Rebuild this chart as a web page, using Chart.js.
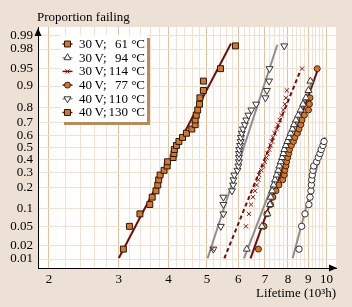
<!DOCTYPE html>
<html>
<head>
<meta charset="utf-8">
<script src="https://cdn.jsdelivr.net/npm/chart.js@4.4.1/dist/chart.umd.min.js"></script>
<style>
  html, body { margin: 0; padding: 0; background: #ede1d5; }
  #wrap { width: 352px; height: 307px; }
</style>
</head>
<body>
<div id="wrap"><canvas id="lifeChart" width="352" height="307"></canvas></div>
<script>
// Lifetime data (10^3 h) and proportion failing, one pair of arrays per test condition
const seriesNames = ['30 V;  61 °C', '30 V;  94 °C', '30 V; 114 °C', '40 V;  77 °C', '40 V; 110 °C', '40 V; 130 °C'];

const life30v61 = [3.08, 3.19, 3.39, 3.59, 3.64, 3.72, 3.76, 3.78, 3.81, 3.90, 3.97, 3.98, 4.11, 4.13, 4.14,
                   4.19, 4.25, 4.34, 4.44, 4.58, 4.67, 4.67, 4.70, 4.74, 4.79, 4.80, 4.90, 4.90, 5.41, 5.90];
const prop30v61 = [0.017, 0.05, 0.083, 0.117, 0.15, 0.183, 0.217, 0.25, 0.283, 0.317, 0.35, 0.383, 0.417, 0.45, 0.483,
                   0.517, 0.55, 0.583, 0.617, 0.65, 0.683, 0.717, 0.75, 0.783, 0.817, 0.85, 0.883, 0.917, 0.95, 0.983];

const life30v94 = [6.30, 6.88, 7.10, 7.21, 7.24, 7.30, 7.36, 7.42, 7.49, 7.56, 7.61, 7.67, 7.73, 7.79,
                   7.83, 7.90, 7.97, 8.05, 8.12, 8.21, 8.28, 8.38, 8.49, 8.61, 8.73, 8.88, 9.01, 9.11];
const prop30v94 = [0.017, 0.05, 0.083, 0.117, 0.15, 0.183, 0.217, 0.25, 0.283, 0.317, 0.35, 0.383, 0.417, 0.45,
                   0.483, 0.517, 0.55, 0.583, 0.617, 0.65, 0.683, 0.717, 0.75, 0.783, 0.817, 0.85, 0.883, 0.917];

const life30v114 = [5.16, 6.27, 6.38, 6.46, 6.53, 6.61, 6.67, 6.74, 6.77, 6.86, 6.94, 7.00, 7.06, 7.10,
                    7.18, 7.24, 7.29, 7.33, 7.40, 7.49, 7.55, 7.63, 7.71, 7.79, 7.86, 7.91, 7.95, 8.68];
const prop30v114 = [0.017, 0.05, 0.083, 0.117, 0.15, 0.183, 0.217, 0.25, 0.283, 0.317, 0.35, 0.383, 0.417, 0.45,
                    0.483, 0.517, 0.55, 0.583, 0.617, 0.65, 0.683, 0.717, 0.75, 0.783, 0.817, 0.85, 0.883, 0.95];

const life40v77 = [6.74, 6.96, 7.08, 7.23, 7.33, 7.46, 7.59, 7.76, 7.83, 7.86, 7.91, 7.94, 7.99, 8.03,
                   8.07, 8.16, 8.26, 8.33, 8.45, 8.53, 8.62, 8.68, 8.80, 9.01, 9.06, 9.09, 9.48];
const prop40v77 = [0.017, 0.05, 0.083, 0.117, 0.15, 0.183, 0.217, 0.25, 0.283, 0.317, 0.35, 0.383, 0.417, 0.45,
                   0.483, 0.517, 0.55, 0.583, 0.617, 0.65, 0.683, 0.717, 0.75, 0.783, 0.817, 0.85, 0.95];

const life40v110 = [5.19, 5.42, 5.50, 5.50, 5.50, 5.78, 5.82, 5.83, 5.86, 5.97, 6.00, 6.02, 6.02, 6.02, 6.03,
                    6.06, 6.08, 6.09, 6.12, 6.16, 6.23, 6.28, 6.36, 6.47, 6.65, 7.02, 7.08, 7.17, 7.19, 7.83];
const prop40v110 = [0.017, 0.05, 0.083, 0.117, 0.15, 0.183, 0.217, 0.25, 0.283, 0.317, 0.35, 0.383, 0.417, 0.45, 0.483,
                    0.517, 0.55, 0.583, 0.617, 0.65, 0.683, 0.717, 0.75, 0.783, 0.817, 0.85, 0.883, 0.917, 0.95, 0.983];

const life40v130 = [8.53, 8.66, 8.83, 9.03, 9.09, 9.14, 9.16, 9.18, 9.21, 9.25, 9.29, 9.45, 9.54, 9.63, 9.70, 9.80, 9.86];
const prop40v130 = [0.017, 0.05, 0.083, 0.117, 0.15, 0.183, 0.217, 0.25, 0.283, 0.317, 0.35, 0.383, 0.417, 0.45, 0.483, 0.517, 0.55];

// Fitted lognormal lines, start and end points
const fitLife = [[3.00, 5.75], [6.20, 9.25], [5.53, 8.57], [6.44, 9.54], [5.02, 7.52], [8.22, 9.91]];
const fitProp = [[0.0106, 0.985], [0.0104, 0.924], [0.0104, 0.942], [0.0104, 0.951], [0.0104, 0.984], [0.0104, 0.587]];

// Axis ticks
const probTicks = [0.01, 0.02, 0.05, 0.1, 0.2, 0.3, 0.4, 0.5, 0.6, 0.7, 0.8, 0.9, 0.95, 0.98, 0.99];
const lifeTicks = [2, 3, 4, 5, 6, 7, 8, 9, 10];

const DARK_RED = '#6b0f0f';
const GRAY = '#8e8e8e';
const BROWN = '#cd7934';
const font = { family: '"Liberation Serif", "Times New Roman", serif', size: 13 };

// Inverse normal CDF (Acklam) for the probability axis
function probit(p) {
    const a = [-3.969683028665376e+01, 2.209460984245205e+02, -2.759285104469687e+02, 1.383577518672690e+02, -3.066479806614716e+01, 2.506628277459239e+00];
    const b = [-5.447609879822406e+01, 1.615858368580409e+02, -1.556989798598866e+02, 6.680131188771972e+01, -1.328068155288572e+01];
    const c = [-7.784894002430293e-03, -3.223964580411365e-01, -2.400758277161838e+00, -2.549732539343734e+00, 4.374664141464968e+00, 2.938163982698783e+00];
    const d = [7.784695709041462e-03, 3.224671290700398e-01, 2.445134137142996e+00, 3.754408661907416e+00];
    const pl = 0.02425;
    if (p < pl) {
        const q = Math.sqrt(-2 * Math.log(p));
        return (((((c[0] * q + c[1]) * q + c[2]) * q + c[3]) * q + c[4]) * q + c[5]) / ((((d[0] * q + d[1]) * q + d[2]) * q + d[3]) * q + 1);
    }
    if (p > 1 - pl) {
        const q = Math.sqrt(-2 * Math.log(1 - p));
        return -(((((c[0] * q + c[1]) * q + c[2]) * q + c[3]) * q + c[4]) * q + c[5]) / ((((d[0] * q + d[1]) * q + d[2]) * q + d[3]) * q + 1);
    }
    const q = p - 0.5, r = q * q;
    return (((((a[0] * r + a[1]) * r + a[2]) * r + a[3]) * r + a[4]) * r + a[5]) * q / (((((b[0] * r + b[1]) * r + b[2]) * r + b[3]) * r + b[4]) * r + 1);
}

const toPoints = (life, prop) => life.map((t, i) => ({ x: t, y: probit(prop[i]) }));

// Marker styles per series (plot) and the styles the legend shows
const markerStyles = [
    { pointStyle: 'rect', radius: 4.2, rotation: 0, bg: BROWN, border: '#2e1508', line: DARK_RED, dash: [] },
    { pointStyle: 'triangle', radius: 4, rotation: 0, bg: '#ffffff', border: '#333333', line: GRAY, dash: [] },
    { pointStyle: 'crossRot', radius: 3, rotation: 0, bg: DARK_RED, border: '#8a1414', line: DARK_RED, dash: [4, 3] },
    { pointStyle: 'circle', radius: 3, rotation: 0, bg: BROWN, border: '#4a2008', line: DARK_RED, dash: [] },
    { pointStyle: 'triangle', radius: 4, rotation: 180, bg: '#ffffff', border: '#333333', line: GRAY, dash: [] },
    { pointStyle: 'circle', radius: 3.2, rotation: 0, bg: '#ffffff', border: '#333333', line: GRAY, dash: [] }
];
const legendStyles = [0, 1, 2, 3, 4, 0].map(i => markerStyles[i]);

const seriesLife = [life30v61, life30v94, life30v114, life40v77, life40v110, life40v130];
const seriesProp = [prop30v61, prop30v94, prop30v114, prop40v77, prop40v110, prop40v130];

const datasets = [];
seriesLife.forEach((life, i) => {
    const st = markerStyles[i];
    datasets.push({
        label: seriesNames[i] + ' fit',
        data: toPoints(fitLife[i], fitProp[i]),
        showLine: true,
        borderColor: st.line,
        borderWidth: 2,
        borderDash: st.dash,
        pointRadius: 0,
        order: 2
    });
});
seriesLife.forEach((life, i) => {
    const st = markerStyles[i];
    datasets.push({
        label: seriesNames[i],
        data: toPoints(life, seriesProp[i]),
        showLine: false,
        pointStyle: st.pointStyle,
        pointRadius: st.radius,
        pointRotation: st.rotation,
        pointBackgroundColor: st.bg,
        pointBorderColor: st.border,
        pointBorderWidth: 1,
        order: 1
    });
});

// Minor gridlines every 0.2 between 2 and 10
const lifeGrid = [];
for (let i = 0; i <= 40; i++) lifeGrid.push(Math.round((2 + i * 0.2) * 10) / 10);
const isMajor = v => lifeTicks.includes(Math.round(v * 10) / 10);

const backgroundPlugin = {
    id: 'background',
    beforeDraw(chart) {
        const { ctx, chartArea: a } = chart;
        ctx.save();
        ctx.fillStyle = '#ede1d5';
        ctx.fillRect(0, 0, chart.width, chart.height);
        ctx.fillStyle = '#fffefc';
        ctx.fillRect(a.left, a.top, a.right - a.left, a.bottom - a.top);
        ctx.restore();
    }
};

const decorPlugin = {
    id: 'decor',
    afterDraw(chart) {
        const { ctx, chartArea: a } = chart;
        ctx.save();
        // axis arrows
        ctx.fillStyle = '#000';
        ctx.beginPath();
        ctx.moveTo(a.left, a.top + 1);
        ctx.lineTo(a.left - 3.5, a.top + 9);
        ctx.lineTo(a.left + 3.5, a.top + 9);
        ctx.closePath();
        ctx.fill();
        ctx.beginPath();
        ctx.moveTo(a.right + 1, a.bottom);
        ctx.lineTo(a.right - 7, a.bottom - 3.5);
        ctx.lineTo(a.right - 7, a.bottom + 3.5);
        ctx.closePath();
        ctx.fill();

        // y axis title
        ctx.font = '13px ' + font.family;
        ctx.textAlign = 'left';
        ctx.textBaseline = 'alphabetic';
        ctx.fillText('Proportion failing', 37, 21);

        // legend box with shadow
        const bx = 61, by = 35, bw = 86, bh = 87;
        ctx.fillStyle = '#b98a5c';
        ctx.fillRect(bx + 3, by + 3, bw, bh);
        ctx.fillStyle = '#ffffff';
        ctx.fillRect(bx, by, bw, bh);

        seriesNames.forEach((name, i) => {
            const y = 44 + i * 13.7;
            const st = legendStyles[i];
            ctx.strokeStyle = st.line;
            ctx.lineWidth = 1.5;
            ctx.setLineDash([]);
            ctx.beginPath();
            ctx.moveTo(62.5, y);
            ctx.lineTo(72.5, y);
            ctx.stroke();
            ctx.fillStyle = st.bg;
            ctx.strokeStyle = st.border;
            ctx.lineWidth = 1;
            Chart.helpers.drawPoint(ctx, {
                pointStyle: st.pointStyle, radius: st.radius, rotation: st.rotation, borderWidth: 1
            }, 67.5, y);
            const parts = name.split(';');
            ctx.fillStyle = '#000';
            ctx.textBaseline = 'middle';
            ctx.textAlign = 'left';
            ctx.fillText(parts[0].replace(' V', '\u2009V') + ';', 79, y + 0.5);
            ctx.textAlign = 'right';
            ctx.fillText(parts[1].trim(), 145, y + 0.5);
        });
        ctx.restore();
    }
};

const ctx = document.getElementById('lifeChart').getContext('2d');
const lifeChart = new Chart(ctx, {
    type: 'scatter',
    data: { datasets: datasets },
    options: {
        responsive: false,
        animation: false,
        events: [],
        layout: { padding: { top: 27, right: 16, left: 0, bottom: 0 } },
        plugins: { legend: { display: false }, tooltip: { enabled: false } },
        scales: {
            x: {
                type: 'logarithmic',
                min: 1.877,
                max: 10.57,
                bounds: 'data',
                afterBuildTicks: s => { s.ticks = lifeGrid.map(v => ({ value: v })); },
                afterFit: s => { s.height = 39; },
                grid: {
                    color: c => (c.tick && isMajor(c.tick.value)) ? '#dcc2a2' : '#efe1d3',
                    drawTicks: false
                },
                border: { display: true, color: '#000', width: 1 },
                ticks: {
                    autoSkip: false,
                    maxRotation: 0,
                    padding: 4,
                    color: '#000',
                    font: font,
                    callback: v => isMajor(v) ? String(Math.round(v)) : ''
                },
                title: {
                    display: true,
                    text: 'Lifetime (10³h)',
                    align: 'end',
                    color: '#000',
                    font: font,
                    padding: { top: 0, bottom: 6 }
                }
            },
            y: {
                type: 'linear',
                min: -2.514,
                max: 2.514,
                bounds: 'data',
                afterBuildTicks: s => { s.ticks = probTicks.map(p => ({ value: probit(p) })); },
                afterFit: s => { s.width = 38; },
                grid: { color: '#efe1d3', drawTicks: false },
                border: { display: true, color: '#000', width: 1 },
                ticks: {
                    autoSkip: false,
                    padding: 5,
                    color: '#000',
                    font: font,
                    callback: (v, i) => String(probTicks[i])
                }
            }
        }
    },
    plugins: [backgroundPlugin, decorPlugin]
});
</script>
</body>
</html>
